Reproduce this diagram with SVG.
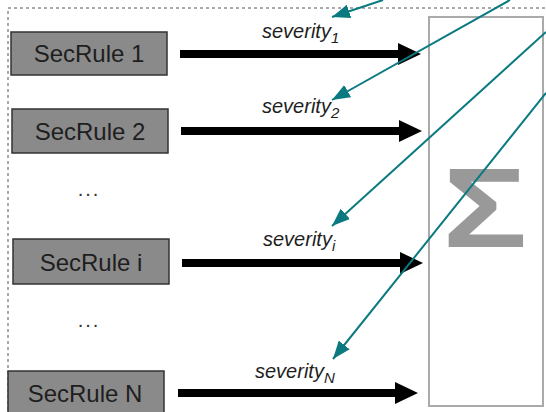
<svg xmlns="http://www.w3.org/2000/svg" width="546" height="412" viewBox="0 0 546 412">
  <style>
    .rule rect { fill: #8a8a8a; stroke: #333; stroke-width: 1.5; }
    .rule text { font-family: "Liberation Sans", Arial, sans-serif; font-size: 24px; fill: #1e1e1e; text-anchor: middle; }
    .flow { stroke: #000; stroke-width: 8; marker-end: url(#bigHead); }
    .link { stroke: #0a7a80; stroke-width: 2; fill: none; marker-end: url(#tealHead); }
    .sev { font-family: "Liberation Sans", Arial, sans-serif; font-style: italic; font-size: 20px; fill: #1e1e1e; }
    .sub { font-size: 15px; }
    .dots { font-family: "Liberation Sans", Arial, sans-serif; font-size: 20px; fill: #333; text-anchor: middle; letter-spacing: 2px; }
  </style>
  <defs>
    <marker id="bigHead" markerUnits="userSpaceOnUse" markerWidth="24" markerHeight="22" refX="0" refY="11" orient="auto">
      <path d="M0,0 L23,11 L0,22 z" fill="#000"/>
    </marker>
    <marker id="tealHead" markerUnits="userSpaceOnUse" markerWidth="19" markerHeight="14" refX="18" refY="7" orient="auto">
      <path d="M0,0 L18,7 L0,14 z" fill="#0a7a80"/>
    </marker>
  </defs>

  <rect width="546" height="412" fill="#fff"/>

  <!-- dashed boundary -->
  <rect x="8" y="8" width="560" height="430" fill="none" stroke="#555" stroke-width="1" stroke-dasharray="3,3"/>

  <!-- aggregator -->
  <g id="sum">
    <rect x="429" y="17" width="114" height="389" fill="#fff" stroke="#aaa" stroke-width="2"/>
    <text transform="translate(485 247) scale(1.24 1)" x="0" y="0" font-family="Liberation Sans, Arial, sans-serif" font-weight="bold" font-size="114" fill="#999" text-anchor="middle">Σ</text>
  </g>

  <g id="rule1" class="rule">
    <rect x="11" y="32" width="156" height="43"/>
    <text x="89" y="62">SecRule 1</text>
  </g>
  <g id="rule2" class="rule">
    <rect x="12" y="109" width="156" height="44"/>
    <text x="90" y="140">SecRule 2</text>
  </g>
  <g id="rulei" class="rule">
    <rect x="13" y="239" width="156" height="45"/>
    <text x="91" y="271">SecRule i</text>
  </g>
  <g id="ruleN" class="rule">
    <rect x="8" y="371" width="156" height="50"/>
    <text x="85" y="402">SecRule N</text>
  </g>

  <text class="dots" x="89" y="196">...</text>
  <text class="dots" x="89" y="327">...</text>

  <!-- severity flows -->
  <g id="connectors">
    <line class="flow" x1="180" y1="54" x2="398" y2="54"/>
    <line class="flow" x1="181" y1="131" x2="399" y2="131"/>
    <line class="flow" x1="182" y1="263" x2="400" y2="263"/>
    <line class="flow" x1="178" y1="393" x2="395" y2="393"/>

    <line class="link" x1="383" y1="0" x2="332" y2="17"/>
    <line class="link" x1="510" y1="0" x2="332" y2="100"/>
    <line class="link" x1="546" y1="32" x2="332" y2="226"/>
    <line class="link" x1="546" y1="93" x2="333" y2="359"/>
  </g>

  <text class="sev" x="262" y="38">severity<tspan class="sub" dy="5">1</tspan></text>
  <text class="sev" x="262" y="113">severity<tspan class="sub" dy="5">2</tspan></text>
  <text class="sev" x="263" y="246">severity<tspan class="sub" dy="5">i</tspan></text>
  <text class="sev" x="255" y="378">severity<tspan class="sub" dy="5">N</tspan></text>
</svg>
